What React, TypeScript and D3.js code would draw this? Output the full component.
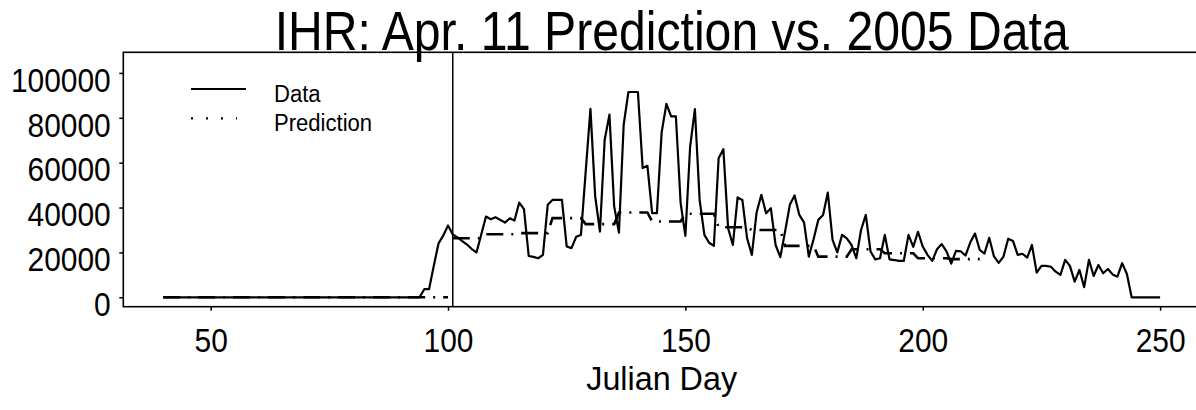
import { useRef, useEffect } from "react";
import * as d3 from "d3";

// daily counts, Julian day 40 .. 250
const firstDay = 40;
const lastDay = 250;
const counts: number[] = [
    // 40-49
    0, 0, 0, 0, 0, 0, 0, 0, 0, 0,
    // 50-59
    0, 0, 0, 0, 0, 0, 0, 0, 0, 0,
    // 60-69
    0, 0, 0, 0, 0, 0, 0, 0, 0, 0,
    // 70-79
    0, 0, 0, 0, 0, 0, 0, 0, 0, 0,
    // 80-89
    0, 0, 0, 0, 0, 0, 0, 0, 0, 0,
    // 90-99
    0, 0, 0, 0, 0, 3600, 3600, 14000, 24000, 27500,
    // 100-109
    32000, 28000, 26700, 25000, 23500, 21500, 20000, 28000, 36000, 34800,
    // 110-119
    35700, 34500, 33300, 35200, 34200, 42200, 39300, 18400, 18000, 17400,
    // 120-129
    18900, 41200, 43400, 43400, 43400, 22600, 21900, 27000, 27800, 56000,
    // 130-139
    84000, 45000, 29300, 70200, 81400, 40500, 28800, 76900, 91500, 91500,
    // 140-149
    91500, 57600, 58600, 37500, 37500, 73500, 86200, 80600, 80600, 42000,
    // 150-159
    27400, 67200, 83900, 43400, 27800, 24300, 22900, 62000, 66000, 30800,
    // 160-169
    23300, 44500, 43400, 26300, 18900, 37800, 45700, 37500, 39700, 23300,
    // 170-179
    17900, 29300, 41200, 45400, 36700, 33300, 18100, 25900, 34500, 36700,
    // 180-189
    46700, 25600, 20000, 27800, 26300, 23300, 17400, 30000, 36700, 20400,
    // 190-199
    16900, 17400, 27800, 16900, 16600, 16200, 16200, 27800, 22500, 29200,
    // 200-209
    22600, 18900, 16200, 21400, 23700, 20500, 15000, 20700, 20500, 18600,
    // 210-219
    24400, 28400, 21100, 19500, 26500, 18200, 15300, 18100, 26100, 25100,
    // 220-229
    18900, 19400, 17700, 23300, 11000, 14000, 14000, 13600, 11400, 10000,
    // 230-239
    16700, 14000, 7000, 12200, 4500, 16700, 9500, 14400, 10700, 12600,
    // 240-249
    10200, 9200, 15200, 10400, 0, 0, 0, 0, 0, 0,
    // 250
    0,
];

// Apr. 11 prediction, weekly levels
const predictionDay = 101;
const preSeasonLevel = 0;
const weekStarts = [101, 108, 115, 122, 129, 136, 143, 150, 157, 164, 171, 178, 185, 192, 199, 206];
const weekLevels = [
    26300, 28100, 28600, 35300, 32600, 37800, 33800, 37200,
    31200, 30000, 22900, 18100, 21400, 19600, 17400, 17000,
];

const xTicks = [50, 100, 150, 200, 250];
const yTicks = [0, 20000, 40000, 60000, 80000, 100000];
const yLimits = [0, 105000];

const title = "IHR: Apr. 11 Prediction vs. 2005 Data";
const xLabel = "Julian Day";
const legendLabels = ["Data", "Prediction"];

const FONT = "'Liberation Sans', Arial, Helvetica, sans-serif";

const App: React.FC = () => {
    const svgRef = useRef<SVGSVGElement | null>(null);

    useEffect(() => {
        if (!svgRef.current) return;
        const width = 1196;
        const height = 410;
        const left = 123.3;
        const right = 1200;
        const top = 52.3;
        const bottom = 306.7;

        const xPad = (lastDay - firstDay) * 0.04;
        const yPad = (yLimits[1] - yLimits[0]) * 0.04;
        const x = d3.scaleLinear().domain([firstDay - xPad, lastDay + xPad]).range([left, right]);
        const y = d3.scaleLinear().domain([yLimits[0] - yPad, yLimits[1] + yPad]).range([bottom, top]);

        const svg = d3.select(svgRef.current);
        svg.selectAll("*").remove();
        svg.attr("width", width).attr("height", height).attr("viewBox", `0 0 ${width} ${height}`);

        const dataPts: [number, number][] = counts.map((v, i) => [firstDay + i, v]);

        const predPts: [number, number][] = [];
        weekStarts.forEach((s, i) => {
            for (let d = s; d < s + 7; d++) predPts.push([d, weekLevels[i]]);
        });
        const prePts: [number, number][] = [
            [firstDay, preSeasonLevel],
            [predictionDay - 1, preSeasonLevel],
        ];

        const line = d3
            .line<[number, number]>()
            .x((d) => x(d[0]))
            .y((d) => y(d[1]));

        // data
        svg.append("path")
            .attr("d", line(dataPts))
            .attr("fill", "none")
            .attr("stroke", "#000")
            .attr("stroke-width", 2.2)
            .attr("stroke-linejoin", "round");

        // prediction
        [prePts, predPts].forEach((pts) => {
            svg.append("path")
                .attr("d", line(pts))
                .attr("fill", "none")
                .attr("stroke", "#000")
                .attr("stroke-width", 2.6)
                .attr("stroke-dasharray", "17,8,2,8");
        });

        // prediction date marker
        svg.append("line")
            .attr("x1", x(predictionDay))
            .attr("x2", x(predictionDay))
            .attr("y1", top)
            .attr("y2", bottom)
            .attr("stroke", "#000")
            .attr("stroke-width", 1.5);

        // box
        svg.append("rect")
            .attr("x", left)
            .attr("y", top)
            .attr("width", right - left)
            .attr("height", bottom - top)
            .attr("fill", "none")
            .attr("stroke", "#000")
            .attr("stroke-width", 1.6);

        const xAxis = svg
            .append("g")
            .attr("transform", `translate(0,${bottom})`)
            .call(d3.axisBottom(x).tickValues(xTicks).tickSize(4).tickFormat(d3.format("d")));
        xAxis.select(".domain").remove();
        xAxis.selectAll("line").attr("stroke-width", 1.5);
        xAxis.selectAll("text")
            .attr("y", 45.7)
            .attr("dy", null)
            .attr("transform", "scale(0.88,1)")
            .attr("font-size", 34)
            .attr("font-family", FONT)
            .attr("fill", "#000");

        const yAxis = svg
            .append("g")
            .attr("transform", `translate(${left},0)`)
            .call(d3.axisLeft(y).tickValues(yTicks).tickSize(4).tickFormat(d3.format("d")));
        yAxis.select(".domain").remove();
        yAxis.selectAll("line").attr("stroke-width", 1.5);
        yAxis.selectAll("text")
            .attr("x", -12.6 / 0.88)
            .attr("y", 18.2)
            .attr("dy", null)
            .attr("transform", "scale(0.88,1)")
            .attr("font-size", 34)
            .attr("font-family", FONT)
            .attr("fill", "#000");

        // title
        svg.append("text")
            .attr("transform", `translate(${(left + right) / 2 + 10},50) scale(0.86,1)`)
            .attr("text-anchor", "middle")
            .attr("font-size", 56)
            .attr("font-family", FONT)
            .text(title);

        // x label
        svg.append("text")
            .attr("transform", `translate(${(left + right) / 2},390) scale(0.95,1)`)
            .attr("text-anchor", "middle")
            .attr("font-size", 34)
            .attr("font-family", FONT)
            .text(xLabel);

        // legend
        const legend = svg.append("g");
        legendLabels.forEach((lab, i) => {
            const ly = i === 0 ? 89 : 118.3;
            legend.append("line")
                .attr("x1", 191)
                .attr("x2", i === 0 ? 246 : 237)
                .attr("y1", ly)
                .attr("y2", ly)
                .attr("stroke", "#000")
                .attr("stroke-width", 2.2)
                .attr("stroke-dasharray", i === 0 ? null : "2,13");
            legend.append("text")
                .attr("transform", `translate(274,${ly + 12.7}) scale(0.96,1)`)
                .attr("font-size", 23)
                .attr("font-family", FONT)
                .text(lab);
        });
    }, []);

    return (
        <svg
            ref={svgRef}
            style={{ position: "absolute", left: 0, top: 0, background: "#fff" }}
        />
    );
};

export default App;
